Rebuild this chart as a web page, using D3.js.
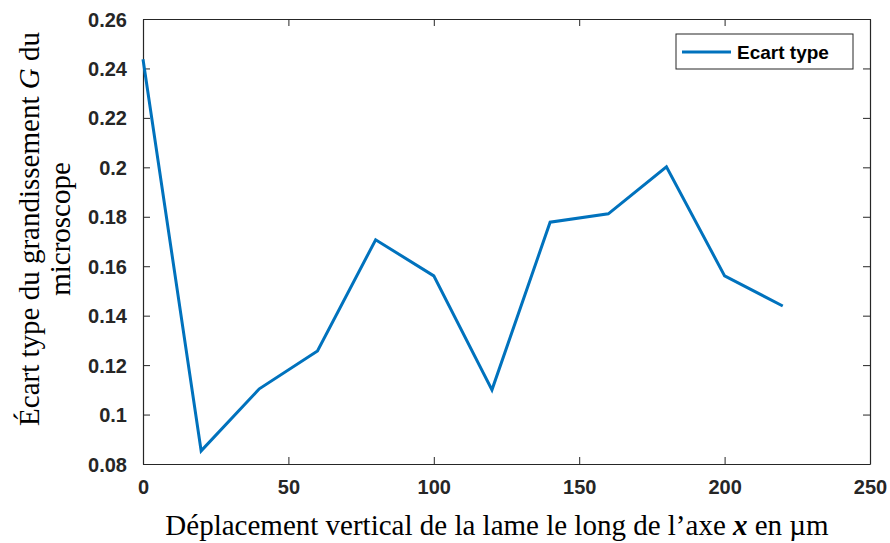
<!DOCTYPE html>
<html><head><meta charset="utf-8">
<script src="https://cdn.jsdelivr.net/npm/d3@7"></script>
<style>body{margin:0;background:#fff}svg{display:block}</style>
</head><body>
<script>
const xValues = [0, 20, 40, 60, 80, 100, 120, 140, 160, 180, 200, 220];
const yValues = [0.2437, 0.0853, 0.1104, 0.1257, 0.1707, 0.1561, 0.1100, 0.1778, 0.1812, 0.2002, 0.1561, 0.1439];
const xTicks = [0, 50, 100, 150, 200, 250];
const yTicks = [0.08, 0.1, 0.12, 0.14, 0.16, 0.18, 0.2, 0.22, 0.24, 0.26];
const seriesName = "Ecart type";

const W = 890, H = 543;
const L = 143, R = 870, T = 19, B = 464;
const svg = d3.select("body").append("svg").attr("width", W).attr("height", H);
const x = d3.scaleLinear().domain([0, 250]).range([L, R]);
const y = d3.scaleLinear().domain([0.08, 0.26]).range([B, T]);
const axCol = "#262626";
const tickFont = "'Liberation Sans', Arial, Helvetica, sans-serif";
const fmt = d => String(+d.toFixed(2));

const gb = svg.append("g").attr("transform", `translate(0,${B})`)
  .call(d3.axisBottom(x).tickValues(xTicks).tickSizeInner(-7).tickSizeOuter(0).tickPadding(16).tickFormat(d => d));
const gt = svg.append("g").attr("transform", `translate(0,${T})`)
  .call(d3.axisTop(x).tickValues(xTicks).tickSizeInner(-7).tickSizeOuter(0).tickFormat(""));
const gl = svg.append("g").attr("transform", `translate(${L},0)`)
  .call(d3.axisLeft(y).tickValues(yTicks).tickSizeInner(-7).tickSizeOuter(0).tickPadding(16).tickFormat(fmt));
const gr = svg.append("g").attr("transform", `translate(${R},0)`)
  .call(d3.axisRight(y).tickValues(yTicks).tickSizeInner(-7).tickSizeOuter(0).tickFormat(""));

[gb, gt, gl, gr].forEach(g => {
  g.select(".domain").attr("stroke", axCol).attr("stroke-width", 1.2);
  g.selectAll(".tick line").attr("stroke", axCol).attr("stroke-width", 1);
  g.selectAll("text").attr("fill", "#262626").style("font-family", tickFont)
    .style("font-weight", "bold").style("font-size", "20px");
});
gb.selectAll("text").attr("dy", "0.71em");
gl.selectAll("text").attr("dy", "0.35em");

const line = d3.line().x((d, i) => x(xValues[i])).y(d => y(d));
svg.append("path").datum(yValues).attr("d", line)
  .attr("fill", "none").attr("stroke", "#0072BD").attr("stroke-width", 3).attr("stroke-linejoin", "miter");

const lg = svg.append("g");
lg.append("rect").attr("x", 676).attr("y", 34).attr("width", 177).attr("height", 35)
  .attr("fill", "#fff").attr("stroke", axCol).attr("stroke-width", 1);
lg.append("line").attr("x1", 682).attr("x2", 731).attr("y1", 52).attr("y2", 52)
  .attr("stroke", "#0072BD").attr("stroke-width", 3);
lg.append("text").attr("x", 737).attr("y", 52).attr("dy", "0.35em").text(seriesName)
  .style("font-family", tickFont).style("font-weight", "bold").style("font-size", "19px").attr("fill", "#000");

const serif = "'Liberation Serif', 'Times New Roman', Times, serif";
const xl = svg.append("text").attr("x", 497).attr("y", 535).attr("text-anchor", "middle")
  .style("font-family", serif).style("font-size", "29px").attr("fill", "#000");
xl.append("tspan").text("Déplacement vertical de la lame le long de l’axe ");
xl.append("tspan").text("x").style("font-weight", "bold").style("font-style", "italic");
xl.append("tspan").text(" en µm");

const yl = svg.append("text").attr("transform", `translate(39,229) rotate(-90)`)
  .attr("text-anchor", "middle").style("font-family", serif).style("font-size", "29px").attr("fill", "#000");
yl.append("tspan").text("Écart type du grandissement ");
yl.append("tspan").text("G").style("font-style", "italic");
yl.append("tspan").text(" du");
svg.append("text").attr("transform", `translate(70,229) rotate(-90)`)
  .attr("text-anchor", "middle").style("font-family", serif).style("font-size", "29px").attr("fill", "#000")
  .text("microscope");
</script>
</body></html>
